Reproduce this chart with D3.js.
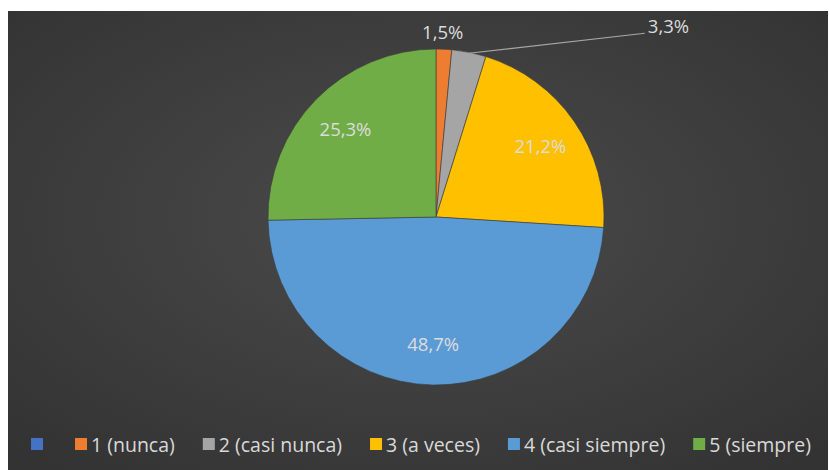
<html>
<head>
    <style>
        body { margin: 0; background: #ffffff; }
        text { font-family: "Open Sans", sans-serif; }
    </style>
    <script src="https://cdn.jsdelivr.net/npm/d3@7"></script>
</head>
<body>
    <svg id="container" width="829" height="470"></svg>
</body>
<script>
    // categories and values (percent)
    let categories = ["", "1 (nunca)", "2 (casi nunca)", "3 (a veces)", "4 (casi siempre)", "5 (siempre)"]
    let values = [0, 1.5, 3.3, 21.2, 48.7, 25.3]
    let labels = ["", "1,5%", "3,3%", "21,2%", "48,7%", "25,3%"]
    let colors = ["#4472C4", "#ED7D31", "#A5A5A5", "#FFC000", "#5B9BD5", "#70AD47"]

    let svg = d3.select("#container")

    let defs = svg.append("defs")
    let grad = defs.append("radialGradient").attr("id", "bg")
        .attr("cx", "50%").attr("cy", "45%").attr("r", "70%")
    grad.append("stop").attr("offset", "0%").attr("stop-color", "#4b4b4b")
    grad.append("stop").attr("offset", "100%").attr("stop-color", "#333333")

    svg.append("rect")
        .attr("x", 8).attr("y", 11)
        .attr("width", 820).attr("height", 459)
        .attr("fill", "url(#bg)")

    let cx = 436, cy = 217, radius = 168

    let data = categories.map((c, i) => ({ cat: c, value: values[i], label: labels[i] }))

    let color = d3.scaleOrdinal().domain(categories).range(colors)

    let pie = d3.pie().sort(null).value(d => d.value)
    let arc = d3.arc().innerRadius(0).outerRadius(radius)
    let labelArc = d3.arc().innerRadius(radius * 0.755).outerRadius(radius * 0.755)

    let body = svg.append("g").attr("transform", "translate(" + cx + "," + cy + ")")

    let arcs = pie(data)

    body.selectAll(".slice")
        .data(arcs.filter(d => d.data.value > 0))
        .enter()
        .append("path")
        .attr("class", "slice")
        .attr("d", arc)
        .attr("fill", d => color(d.data.cat))
        .attr("stroke", "#3a3a3a")
        .attr("stroke-width", 0.6)

    // labels: big slices inside, small ones outside
    let fs = 18.5
    let outer = d3.arc().innerRadius(radius + 17).outerRadius(radius + 17)
    arcs.forEach(d => {
        if (d.data.value <= 0) return
        let pos
        if (d.data.value > 10) {
            pos = labelArc.centroid(d)
            body.append("text")
                .attr("x", pos[0]).attr("y", pos[1])
                .attr("text-anchor", "middle")
                .attr("dominant-baseline", "central")
                .attr("fill", "#dcdcdc")
                .attr("font-size", fs)
                .text(d.data.label)
        } else if (d.data.value < 2) {
            pos = outer.centroid(d)
            body.append("text")
                .attr("x", pos[0] - 2).attr("y", pos[1] - 1)
                .attr("text-anchor", "middle")
                .attr("dominant-baseline", "central")
                .attr("fill", "#dcdcdc")
                .attr("font-size", fs)
                .text(d.data.label)
        } else {
            // leader line out to the right
            let start = d3.arc().innerRadius(radius - 1).outerRadius(radius - 1).centroid(d)
            let end = [start[0] + 176, start[1] - 20]
            body.append("polyline")
                .attr("points", [start, end].map(p => p.join(",")).join(" "))
                .attr("fill", "none")
                .attr("stroke", "#a6a6a6")
                .attr("stroke-width", 1.2)
            body.append("text")
                .attr("x", end[0] + 3).attr("y", end[1] - 8)
                .attr("dominant-baseline", "central")
                .attr("fill", "#dcdcdc")
                .attr("font-size", fs)
                .text(d.data.label)
        }
    })

    // legend
    let legend = svg.append("g").attr("transform", "translate(0,444)")
    let x = 0
    let items = []
    data.forEach(d => {
        let g = legend.append("g")
        g.append("rect")
            .attr("x", 0).attr("y", -6)
            .attr("width", 12).attr("height", 12)
            .attr("fill", color(d.cat))
        let t = g.append("text")
            .attr("x", 16).attr("y", 0)
            .attr("dominant-baseline", "central")
            .attr("fill", "#d9d9d9")
            .attr("font-size", 19.5)
            .text(d.cat)
        let w = d.cat ? 16 + t.node().getComputedTextLength() : 16
        items.push({ g: g, x: x })
        x += w + 28
    })
    let total = x - 28
    let startX = 421 - total / 2
    items.forEach(it => it.g.attr("transform", "translate(" + (startX + it.x) + ",0)"))
</script>
</html>
